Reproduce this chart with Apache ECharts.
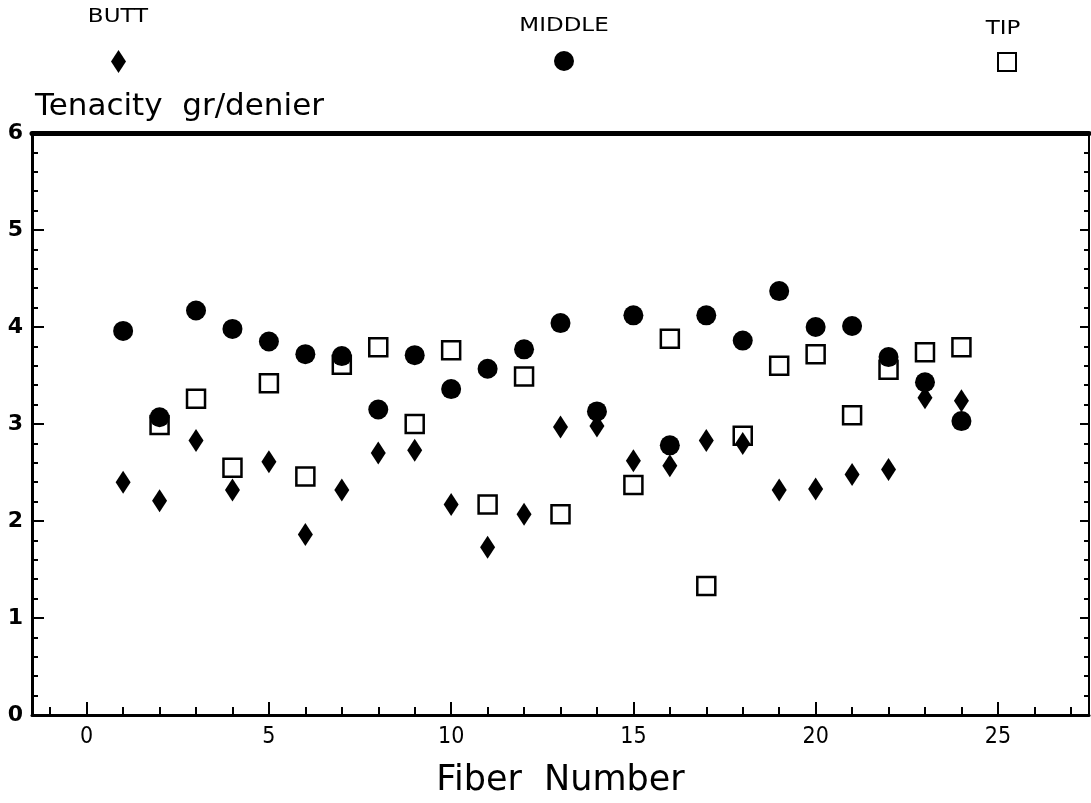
<!DOCTYPE html>
<html>
<head>
<meta charset="utf-8">
<script src="https://cdn.jsdelivr.net/npm/echarts@6/dist/echarts.min.js"></script>
<style>
  html, body { margin: 0; padding: 0; background: #fff; }
  #chart { width: 1091px; height: 803px; }
</style>
</head>
<body>
<div id="chart"></div>
<script>
// 纤维编号
const fibers = [1, 2, 3, 4, 5, 6, 7, 8, 9, 10, 11, 12, 13, 14, 15, 16, 17, 18, 19, 20, 21, 22, 23, 24];
// 三个部位的强度 (gr/denier)
const butt = [2.40, 2.21, 2.83, 2.32, 2.61, 1.86, 2.32, 2.70, 2.73, 2.17, 1.73, 2.07,
              2.97, 2.98, 2.62, 2.57, 2.83, 2.80, 2.32, 2.33, 2.48, 2.53, 3.27, 3.24];
const middle = [3.96, 3.07, 4.17, 3.98, 3.85, 3.72, 3.70, 3.15, 3.71, 3.36, 3.57, 3.77,
                4.04, 3.13, 4.12, 2.78, 4.12, 3.86, 4.37, 4.00, 4.01, 3.69, 3.43, 3.03];
const tip = [null, 2.99, 3.26, 2.55, 3.42, 2.46, 3.61, 3.79, 3.00, 3.76, 2.17, 3.49,
             2.07, null, 2.37, 3.88, 1.33, 2.88, 3.60, 3.72, 3.09, 3.56, 3.74, 3.79];
// 横轴刻度
const xMajorTicks = [0, 5, 10, 15, 20, 25];
const xMinorTicks = [-1, 0, 1, 2, 3, 4, 5, 6, 7, 8, 9, 10, 11, 12, 13, 14, 15, 16, 17, 18, 19, 20, 21, 22, 23, 24, 25, 26, 27];

// 组装散点数据，跳过缺失值
function pairs(values) {
  const out = [];
  values.forEach((v, i) => {
    if (v !== null) out.push([fibers[i], v]);
  });
  return out;
}

const chart = echarts.init(document.getElementById('chart'));

const xRange = { min: -1.5, max: 27.5 };
const labelFont = "'DejaVu Sans', sans-serif";
const thinFont = "'DejaVu Sans Condensed', 'DejaVu Sans', sans-serif";

// 图例文字（放在图标上方，字形偏宽）
function legendText(text, x, y) {
  return {
    type: 'text', x: x, y: y, scaleY: 0.86,
    style: { text: text, font: "23px " + labelFont, fill: '#000', align: 'center', verticalAlign: 'middle' }
  };
}

chart.setOption({
  animation: false,
  backgroundColor: '#fff',
  grid: { left: 32, right: 2, top: 133, bottom: 88, containLabel: false },
  legend: [
    {
      data: [{ name: 'BUTT', icon: 'diamond' }],
      left: 111, top: 50, padding: 0, itemWidth: 15, itemHeight: 23,
      formatter: () => '', selectedMode: false
    },
    {
      data: [{ name: 'MIDDLE', icon: 'circle' }],
      left: 554, top: 51, padding: 0, itemWidth: 20, itemHeight: 20,
      formatter: () => '', selectedMode: false
    },
    {
      data: [{ name: 'TIP', icon: 'rect' }],
      left: 997, top: 52, padding: 0, itemWidth: 18, itemHeight: 18,
      itemStyle: { color: '#fff', borderColor: '#000', borderWidth: 2 },
      formatter: () => '', selectedMode: false
    }
  ],
  graphic: [
    legendText('BUTT', 118, 17),
    legendText('MIDDLE', 564, 26),
    legendText('TIP', 1003, 29)
  ],
  xAxis: [
    {
      type: 'value', position: 'bottom', min: xRange.min, max: xRange.max,
      name: 'Fiber  Number', nameLocation: 'middle', nameGap: 48,
      nameTextStyle: { fontSize: 35, color: '#000', fontFamily: labelFont },
      axisLine: { show: true, onZero: false, lineStyle: { color: '#000', width: 3 } },
      axisTick: { show: true, inside: true, length: 13, customValues: xMajorTicks, lineStyle: { color: '#000', width: 2 } },
      axisLabel: { customValues: xMajorTicks, fontSize: 23, color: '#000', margin: 11, fontFamily: thinFont },
      splitLine: { show: false }
    },
    {
      type: 'value', position: 'bottom', min: xRange.min, max: xRange.max,
      axisLine: { show: false, onZero: false },
      axisTick: { show: true, inside: true, length: 8, customValues: xMinorTicks, lineStyle: { color: '#000', width: 2 } },
      axisLabel: { show: false },
      splitLine: { show: false }
    },
    {
      type: 'value', position: 'top', min: xRange.min, max: xRange.max,
      axisLine: { show: true, onZero: false, lineStyle: { color: '#000', width: 5 } },
      axisTick: { show: false },
      axisLabel: { show: false },
      splitLine: { show: false }
    }
  ],
  yAxis: [
    {
      type: 'value', position: 'left', min: 0, max: 6, interval: 1,
      name: 'Tenacity  gr/denier', nameLocation: 'end', nameGap: 11,
      nameTextStyle: { fontSize: 31, color: '#000', align: 'left', fontFamily: labelFont, padding: [0, 0, 0, 3] },
      axisLine: { show: true, onZero: false, lineStyle: { color: '#000', width: 3 } },
      axisTick: { show: true, inside: true, length: 12, lineStyle: { color: '#000', width: 2 } },
      minorTick: { show: true, splitNumber: 5, length: 6, lineStyle: { color: '#000', width: 2 } },
      axisLabel: { fontSize: 22, fontWeight: 'bold', color: '#000', margin: 9, fontFamily: labelFont },
      splitLine: { show: false }
    },
    {
      type: 'value', position: 'right', min: 0, max: 6, interval: 1,
      axisLine: { show: true, onZero: false, lineStyle: { color: '#000', width: 2 } },
      axisTick: { show: true, inside: true, length: 9, lineStyle: { color: '#000', width: 2 } },
      minorTick: { show: true, splitNumber: 5, length: 5, lineStyle: { color: '#000', width: 2 } },
      axisLabel: { show: false },
      splitLine: { show: false }
    }
  ],
  series: [
    {
      name: 'TIP', type: 'scatter', data: pairs(tip), z: 2,
      symbol: 'rect', symbolSize: 18,
      itemStyle: { color: '#fff', borderColor: '#000', borderWidth: 2.5, opacity: 1 }
    },
    {
      name: 'BUTT', type: 'scatter', data: pairs(butt), z: 3,
      symbol: 'diamond', symbolSize: [15, 23],
      itemStyle: { color: '#000', opacity: 1 }
    },
    {
      name: 'MIDDLE', type: 'scatter', data: pairs(middle), z: 4,
      symbol: 'circle', symbolSize: 20,
      itemStyle: { color: '#000', opacity: 1 }
    }
  ]
});
</script>
</body>
</html>
